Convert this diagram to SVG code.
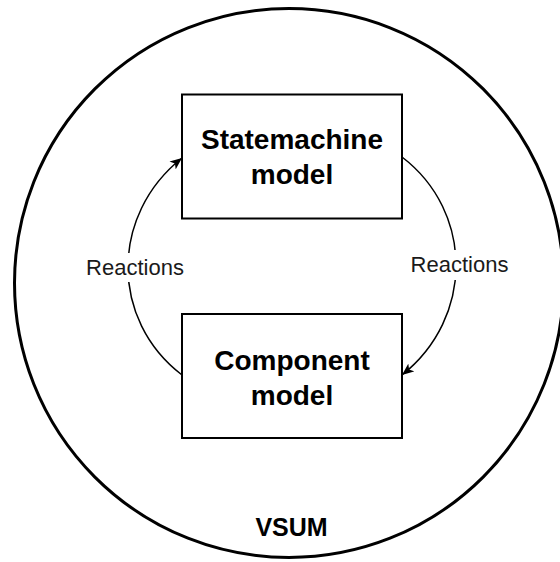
<svg xmlns="http://www.w3.org/2000/svg" width="560" height="562" viewBox="0 0 560 562">
  <style>
    .box { fill: #ffffff; stroke: #000000; stroke-width: 2; }
    .title { font-family: "Liberation Sans", Arial, sans-serif; font-weight: bold; font-size: 28px; text-anchor: middle; fill: #000000; }
    .label { font-family: "Liberation Sans", Arial, sans-serif; font-size: 22px; text-anchor: middle; fill: #1a1a1a; }
    .edge { fill: none; stroke: #000000; stroke-width: 1.5; }
    .label-bg { fill: #ffffff; }
  </style>
  <defs>
    <marker id="arrow" viewBox="0 0 12 10" refX="12" refY="5" markerWidth="12" markerHeight="10" markerUnits="userSpaceOnUse" orient="auto">
      <path d="M0,0 L12,5 L0,10 L3,5 Z" fill="#000000"/>
    </marker>
  </defs>

  <rect width="560" height="562" fill="#ffffff"/>

  <!-- VSUM container -->
  <g id="vsum">
    <circle cx="289" cy="283" r="274.5" fill="none" stroke="#000000" stroke-width="3"/>
    <text class="title" x="291.5" y="536" style="font-size:25px">VSUM</text>
  </g>

  <!-- connectors -->
  <g id="connectors">
    <path class="edge" d="M182,375 C110,320 110,215 182,158" marker-end="url(#arrow)"/>
    <path class="edge" d="M402,157 C474,212 474,318 402,375" marker-end="url(#arrow)"/>
    <rect class="label-bg" x="84" y="253" width="102" height="29"/>
    <text class="label" x="135" y="275">Reactions</text>
    <rect class="label-bg" x="409" y="250" width="102" height="30"/>
    <text class="label" x="459.5" y="272">Reactions</text>
  </g>

  <g id="statemachine">
    <rect class="box" x="182" y="94.5" width="220" height="124"/>
    <text class="title" x="292" y="149">Statemachine</text>
    <text class="title" x="292" y="184">model</text>
  </g>

  <g id="component">
    <rect class="box" x="182" y="314" width="220" height="124"/>
    <text class="title" x="292" y="370">Component</text>
    <text class="title" x="292" y="405">model</text>
  </g>
</svg>
